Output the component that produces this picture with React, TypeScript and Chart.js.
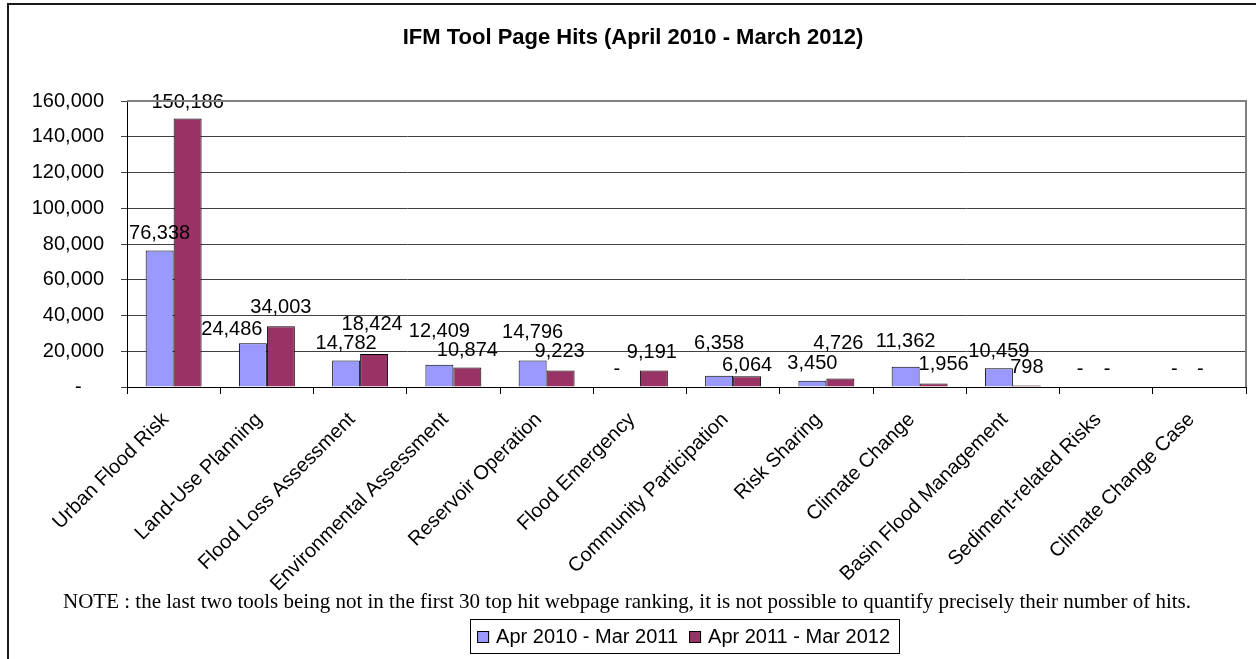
import React, { useEffect, useRef } from 'react';
import { Chart, registerables } from 'chart.js';

Chart.register(...registerables);

const categories = [
  'Urban Flood Risk',
  'Land-Use Planning',
  'Flood Loss Assessment',
  'Environmental Assessment',
  'Reservoir Operation',
  'Flood Emergency',
  'Community Participation',
  'Risk Sharing',
  'Climate Change',
  'Basin Flood Management',
  'Sediment-related Risks',
  'Climate Change Case',
];

const seriesNames = ['Apr 2010 - Mar 2011', 'Apr 2011 - Mar 2012'];

const hits2010 = [76338, 24486, 14782, 12409, 14796, 0, 6358, 3450, 11362, 10459, 0, 0];
const hits2011 = [150186, 34003, 18424, 10874, 9223, 9191, 6064, 4726, 1956, 798, 0, 0];

const yTickValues = [0, 20000, 40000, 60000, 80000, 100000, 120000, 140000, 160000];

const titleText = 'IFM Tool Page Hits (April 2010 - March 2012)';
const noteText =
  'NOTE : the last two tools being not in the first 30 top hit webpage ranking, it is not possible to quantify precisely their number of hits.';

// manual nudges of the value labels (dx, extra lift) as in the original layout
const nudge2010: [number, number][] = [
  [0, 0], [-21, -4], [0, 0], [0, 16], [0, 11], [-9, 0], [0, 15], [0, 0], [0, 8], [0, -1], [-12, 0], [-11, 0],
];
const nudge2011: [number, number][] = [
  [0, -1], [0, 1], [-2, 12], [0, 0], [-1, 2], [-2, 1], [0, -7], [-2, 18], [10, 2], [0, 1], [-13, 0], [-13, 0],
];

const SANS = '"Liberation Sans", Arial, Helvetica, sans-serif';
const SERIF = '"Liberation Serif", "Times New Roman", Times, serif';
const COLORS = ['#9999FF', '#993366'];

const fmt = (v: number) => (v === 0 ? '-' : v.toLocaleString('en-US'));

const framePlugin = {
  id: 'frame',
  beforeDraw(chart: any) {
    const ctx = chart.ctx;
    ctx.save();
    ctx.fillStyle = '#ffffff';
    ctx.fillRect(0, 0, chart.width, chart.height);
    ctx.restore();
  },
  afterDraw(chart: any) {
    const ctx = chart.ctx;
    const a = chart.chartArea;
    ctx.save();
    // outer chart border
    ctx.strokeStyle = '#1a1a1a';
    ctx.lineWidth = 2;
    ctx.beginPath();
    ctx.moveTo(8, chart.height);
    ctx.lineTo(8, 4);
    ctx.lineTo(chart.width, 4);
    ctx.stroke();

    // plot area border (top and right, gray)
    ctx.strokeStyle = '#808080';
    ctx.lineWidth = 2;
    ctx.beginPath();
    ctx.moveTo(a.left, a.top);
    ctx.lineTo(a.right, a.top);
    ctx.lineTo(a.right, a.bottom);
    ctx.stroke();

    // title
    ctx.fillStyle = '#000';
    ctx.font = 'bold 22px ' + SANS;
    ctx.textAlign = 'center';
    ctx.textBaseline = 'alphabetic';
    ctx.fillText(titleText, 633, 44);

    // note
    ctx.font = '21px ' + SERIF;
    ctx.fillText(noteText, 627, 608);

    // legend
    ctx.font = '20px ' + SANS;
    ctx.textAlign = 'left';
    const names = chart.data.datasets.map((d: any) => d.label);
    const widths = names.map((n: string) => ctx.measureText(n).width);
    const pad = 7, sq = 12, gap = 7, itemGap = 11;
    const total = pad + widths.reduce((s: number, w: number) => s + sq + gap + w, 0) + itemGap * (names.length - 1) + pad + 2;
    const right = 899;
    const left = right - total;
    const top = 619, bottom = 653;
    ctx.strokeStyle = '#000';
    ctx.lineWidth = 1;
    ctx.fillStyle = '#fff';
    ctx.fillRect(left, top, total, bottom - top);
    ctx.strokeRect(Math.round(left) + 0.5, top + 0.5, Math.round(total), bottom - top);
    let x = left + pad;
    names.forEach((n: string, i: number) => {
      ctx.fillStyle = chart.data.datasets[i].backgroundColor;
      ctx.fillRect(x, 631, sq, sq);
      ctx.strokeStyle = '#000';
      ctx.strokeRect(x + 0.5, 631.5, sq - 1, sq - 1);
      x += sq + gap;
      ctx.fillStyle = '#000';
      ctx.fillText(n, x, 643);
      x += widths[i] + itemGap;
    });
    ctx.restore();
  },
};

const valueLabelPlugin = {
  id: 'valueLabels',
  afterDatasetsDraw(chart: any) {
    const ctx = chart.ctx;
    const nudges = [nudge2010, nudge2011];
    ctx.save();
    ctx.font = '20px ' + SANS;
    ctx.fillStyle = '#000';
    ctx.textAlign = 'center';
    ctx.textBaseline = 'alphabetic';
    chart.data.datasets.forEach((ds: any, di: number) => {
      const meta = chart.getDatasetMeta(di);
      meta.data.forEach((bar: any, i: number) => {
        const v = ds.data[i];
        const [dx, dy] = nudges[di][i];
        ctx.fillText(fmt(v), bar.x + dx, bar.y - 19 - dy + 7);
      });
    });
    ctx.restore();
  },
};

export default function App() {
  const ref = useRef<HTMLCanvasElement | null>(null);

  useEffect(() => {
    if (!ref.current) return;
    const chart = new Chart(ref.current, {
      type: 'bar',
      data: {
        labels: categories,
        datasets: [
          {
            label: seriesNames[0],
            data: hits2010,
            backgroundColor: COLORS[0],
            borderColor: '#000',
            borderWidth: 1,
            categoryPercentage: 0.6,
            barPercentage: 1,
          },
          {
            label: seriesNames[1],
            data: hits2011,
            backgroundColor: COLORS[1],
            borderColor: '#000',
            borderWidth: 1,
            categoryPercentage: 0.6,
            barPercentage: 1,
          },
        ],
      },
      options: {
        responsive: false,
        animation: false,
        events: [],
        layout: { padding: { top: 101, right: 10, left: 0, bottom: 0 } },
        plugins: {
          legend: { display: false },
          title: { display: false },
          tooltip: { enabled: false },
        },
        scales: {
          x: {
            grid: {
              display: true,
              drawOnChartArea: false,
              drawTicks: true,
              tickLength: 7,
              color: '#000',
              offset: true,
            },
            border: { display: true, color: '#000', width: 1 },
            ticks: {
              autoSkip: false,
              maxRotation: 45,
              minRotation: 45,
              color: '#000',
              padding: 14,
              labelOffset: -8,
              font: { family: SANS, size: 20 },
            },
            afterFit: (s: any) => {
              s.height = 272;
            },
          },
          y: {
            min: 0,
            max: 160000,
            afterBuildTicks: (s: any) => {
              s.ticks = yTickValues.map((v) => ({ value: v }));
            },
            ticks: {
              color: '#000',
              padding: 17,
              font: { family: SANS, size: 20 },
              callback: (v: any) => (Number(v) === 0 ? '-    ' : Number(v).toLocaleString('en-US')),
            },
            grid: { color: '#404040', tickLength: 6, lineWidth: 1 },
            border: { display: true, color: '#000', width: 1 },
            afterFit: (s: any) => {
              s.width = 127;
            },
          },
        },
      },
      plugins: [framePlugin, valueLabelPlugin],
    });
    return () => chart.destroy();
  }, []);

  return (
    <div style={{ position: 'absolute', left: 0, top: 0, width: 1256, height: 659 }}>
      <canvas ref={ref} width={1256} height={659} style={{ display: 'block' }} />
    </div>
  );
}
